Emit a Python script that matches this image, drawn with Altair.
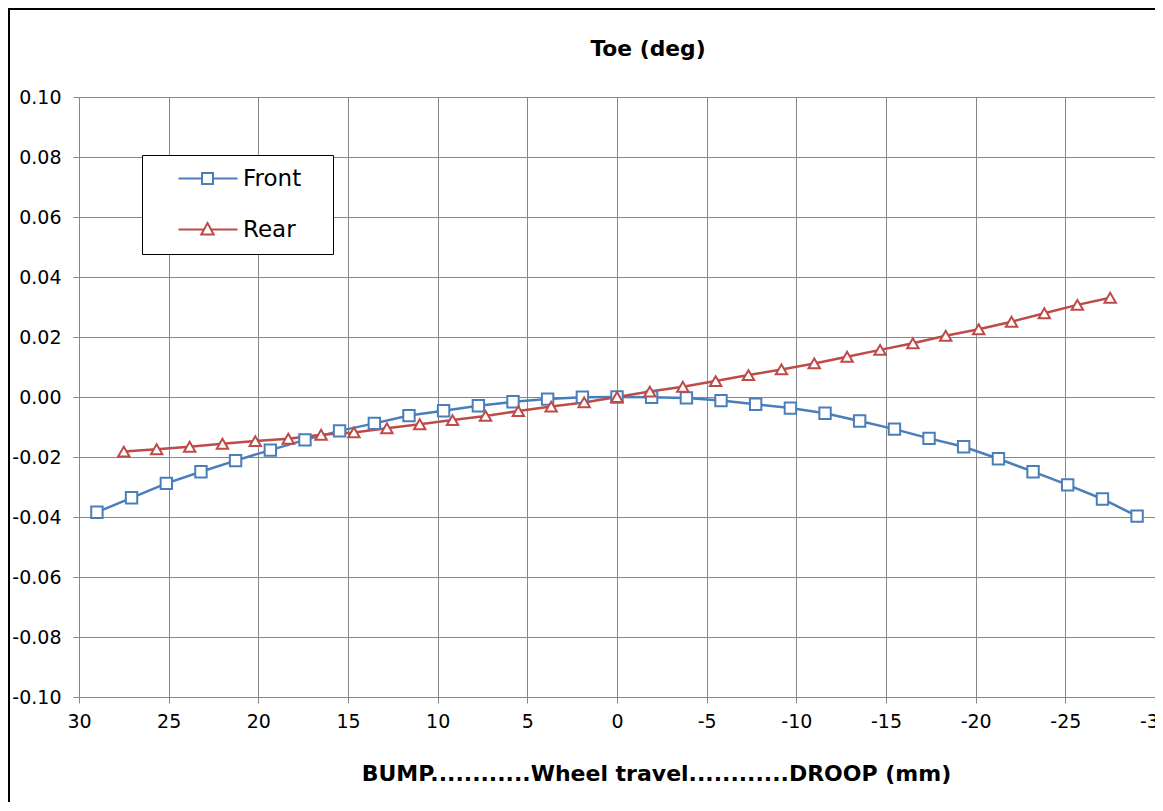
import altair as alt
import pandas as pd

# ---- data ----
front_x = [29.0, 27.07, 25.13, 23.2, 21.27, 19.33, 17.4, 15.47, 13.53, 11.6, 9.67, 7.73, 5.8, 3.87, 1.93, 0.0,
           -1.93, -3.87, -5.8, -7.73, -9.67, -11.6, -13.53, -15.47, -17.4, -19.33, -21.27, -23.2, -25.13, -27.07, -29.0]
front_y = [-0.0384, -0.0336, -0.0288, -0.0249, -0.0212, -0.0177, -0.0143, -0.0113, -0.0088, -0.0062, -0.0046,
           -0.0029, -0.0016, -0.0007, -0.0001, 0.0, -0.0001, -0.0003, -0.0012, -0.0024, -0.0037, -0.0054,
           -0.0080, -0.0107, -0.0138, -0.0166, -0.0206, -0.0249, -0.0293, -0.0340, -0.0397]
rear_x = [27.5, 25.67, 23.83, 22.0, 20.17, 18.33, 16.5, 14.67, 12.83, 11.0, 9.17, 7.33, 5.5, 3.67, 1.83, 0.0,
          -1.83, -3.67, -5.5, -7.33, -9.17, -11.0, -12.83, -14.67, -16.5, -18.33, -20.17, -22.0, -23.83, -25.67, -27.5]
rear_y = [-0.0182, -0.0174, -0.0166, -0.0156, -0.0147, -0.0139, -0.0126, -0.0118, -0.0104, -0.0091, -0.0077,
          -0.0063, -0.0047, -0.0032, -0.0018, 0.0, 0.0018, 0.0034, 0.0053, 0.0073, 0.0092, 0.0112, 0.0134,
          0.0157, 0.0179, 0.0204, 0.0226, 0.0251, 0.0279, 0.0307, 0.0331]
series_names = ["Front", "Rear"]
series_colors = ["#4A7EBB", "#BE4B48"]
x_ticks = [30, 25, 20, 15, 10, 5, 0, -5, -10, -15, -20, -25, -30]
y_ticks = [-0.10, -0.08, -0.06, -0.04, -0.02, 0.0, 0.02, 0.04, 0.06, 0.08, 0.10]
chart_title = "Toe (deg)"
x_title = "BUMP............Wheel travel............DROOP (mm)"

df = pd.concat([
    pd.DataFrame({"travel": front_x, "toe": front_y, "series": series_names[0]}),
    pd.DataFrame({"travel": rear_x, "toe": rear_y, "series": series_names[1]}),
], ignore_index=True)

FONT = "DejaVu Sans"
GRID = "#878787"
MINUS_FIX = "replace(datum.label, '\u2212', '-')"

# legend symbols: a line with a hollow marker in the middle
FRONT_PATH = "M1.3,0H3.65M4.75,0H7.2M3.65,-0.55H4.75V0.55H3.65Z"
REAR_PATH = "M1.3,0H3.85M4.55,0H7.2M4.2,-0.65L4.82,0.5H3.58Z"

x_enc = alt.X(
    "travel:Q",
    scale=alt.Scale(domain=[-30, 30], reverse=True, nice=False, zero=False),
    axis=alt.Axis(
        values=x_ticks, format="d", labelExpr=MINUS_FIX,
        title=x_title, titleX=577, titleY=76, titleBaseline="middle", titleAlign="center",
        titleFont=FONT, titleFontSize=22, titleFontWeight="bold", titleColor="#000",
        labelFont=FONT, labelFontSize=19, labelColor="#000", labelFlush=False, labelOverlap=False,
        tickSize=6, tickColor=GRID, labelPadding=9,
        gridColor=GRID, gridWidth=1, domainColor=GRID, domainWidth=1,
    ),
)
y_enc = alt.Y(
    "toe:Q",
    scale=alt.Scale(domain=[-0.1, 0.1], nice=False, zero=False),
    axis=alt.Axis(
        values=y_ticks, format=".2f", labelExpr=MINUS_FIX, title=None,
        labelFont=FONT, labelFontSize=19, labelColor="#000", labelFlush=False, labelOverlap=False,
        tickSize=6, tickColor=GRID, labelPadding=12,
        gridColor=GRID, gridWidth=1, domainColor=GRID, domainWidth=1,
    ),
)

# the legend title is transparent; it only widens the legend box to the reference's width
LEG = alt.Legend(
    title="\u2014", titleOrient="right", titleOpacity=0, titleFontSize=20, titlePadding=0,
    titleFont=FONT,
    orient="none", legendX=63, legendY=58,
    fillColor="white", strokeColor="#000", padding=12,
    labelFont=FONT, labelFontSize=23, labelColor="#000", labelOffset=66, labelLimit=400,
    symbolSize=400, symbolStrokeWidth=2, symbolOpacity=1, symbolFillColor="white",
    rowPadding=27,
)

color_scale = alt.Scale(domain=series_names, range=series_colors)

base = alt.Chart(df)

lines = base.mark_line(strokeWidth=2.5).encode(
    x=x_enc, y=y_enc, color=alt.Color("series:N", scale=color_scale, legend=LEG)
)

pts_front = base.transform_filter(alt.datum.series == series_names[0]).mark_point(
    shape="square", size=130, filled=True, fill="white", stroke=series_colors[0],
    strokeWidth=2, opacity=1,
).encode(x=x_enc, y=y_enc)

pts_rear = base.transform_filter(alt.datum.series == series_names[1]).mark_point(
    shape="triangle-up", size=130, filled=True, fill="white", stroke=series_colors[1],
    strokeWidth=2, opacity=1,
).encode(x=x_enc, y=y_enc)

# invisible layer whose only job is to give the legend its line+marker symbols
legend_layer = base.mark_point(opacity=0, filled=False).encode(
    x=x_enc, y=y_enc,
    color=alt.Color("series:N", scale=color_scale, legend=LEG),
    shape=alt.Shape("series:N", scale=alt.Scale(domain=series_names, range=[FRONT_PATH, REAR_PATH]), legend=LEG),
)

frame = alt.Chart(alt.Data(values=[{}])).mark_rect(
    fillOpacity=0, stroke="#000", strokeWidth=2
).encode(x=alt.value(-70), x2=alt.value(1200), y=alt.value(-88), y2=alt.value(820))

chart = alt.layer(frame, lines, pts_front, pts_rear, legend_layer).properties(
    width=1076, height=600,
    title=alt.Title(chart_title, font=FONT, fontSize=21.8, fontWeight="bold", color="#000",
                    dx=31, offset=-53, anchor="middle", frame="group"),
    autosize=alt.AutoSizeParams(type="none"),
    padding={"left": 71, "top": 89, "right": 0, "bottom": 105},
).configure_view(stroke=None).configure(background="white")

chart.save("out.html", embed_options={"renderer": "svg", "actions": False})
